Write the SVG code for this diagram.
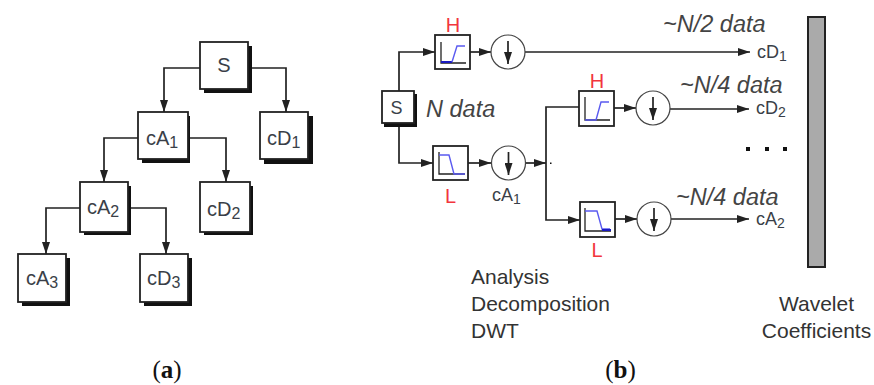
<svg xmlns="http://www.w3.org/2000/svg" width="874" height="385" viewBox="0 0 874 385">
<style>
text{font-family:"Liberation Sans",Arial,sans-serif;fill:#3a3f48}
.n{font-size:20px}
.sub{font-size:16px}
.i{font-size:23.500px;font-style:italic;fill:#444}
.r{font-size:20px;fill:#f2353d;text-anchor:middle}
.t{font-size:21px;fill:#333}
.s{font-size:18px}
.ss{font-size:14px}
.c{font-family:"Liberation Serif",serif;font-size:25px;fill:#111;text-anchor:middle}
.box{fill:#fff;stroke:#222;stroke-width:1.800}
.sh{fill:#111}
.ln{fill:none;stroke:#222;stroke-width:1.700}
.ax{fill:none;stroke:#222;stroke-width:1.300}
.bl{fill:none;stroke:#5a5af0;stroke-width:1.400}
.db{fill:none;stroke:#1a1ac0;stroke-width:2}
.circ{fill:#fff;stroke:#444;stroke-width:1.200}
</style>
<defs>
<marker id="a" viewBox="0 0 12 8" refX="12" refY="4" markerWidth="12" markerHeight="8" markerUnits="userSpaceOnUse" orient="auto"><path d="M0 0L12 4L0 8z" fill="#222"/></marker>
</defs>
<g id="connectors">
<path class="ln" marker-end="url(#a)" d="M200 68H164V112"/>
<path class="ln" marker-end="url(#a)" d="M252 68H286V112"/>
<path class="ln" marker-end="url(#a)" d="M138 138H104V182"/>
<path class="ln" marker-end="url(#a)" d="M190 138H226V182"/>
<path class="ln" marker-end="url(#a)" d="M80 208H46V254"/>
<path class="ln" marker-end="url(#a)" d="M130 208H166V254"/>
<path class="ln" marker-end="url(#a)" d="M399 91V52H435"/>
<path class="ln" marker-end="url(#a)" d="M399 127V163H433"/>
<path class="ln" marker-end="url(#a)" d="M470 52H491"/>
<path class="ln" marker-end="url(#a)" d="M468 163H491"/>
<path class="ln" d="M525 52H750" marker-end="url(#a)"/>
<path class="ln" marker-end="url(#a)" d="M526 163H546"/>
<path class="ln" marker-end="url(#a)" d="M579 107H546V220H580"/>
<path class="ln" marker-end="url(#a)" d="M614 108H636"/>
<path class="ln" marker-end="url(#a)" d="M615 219H637"/>
<path class="ln" marker-end="url(#a)" d="M670 109H749"/>
<path class="ln" marker-end="url(#a)" d="M671 219H749"/>
</g>
<g id="node-s"><rect class="sh" x="204" y="46" width="48" height="47"/><rect class="box" x="200" y="42" width="48" height="47"/><text class="n" x="224" y="72" text-anchor="middle">S</text></g>
<g id="node-ca1"><rect class="sh" x="142" y="116" width="48" height="47"/><rect class="box" x="138" y="112" width="50" height="47"/><text class="n" x="146" y="145">cA<tspan class="sub" dy="3">1</tspan></text></g>
<g id="node-cd1"><rect class="sh" x="264" y="116" width="49" height="48"/><rect class="box" x="260" y="112" width="48" height="47"/><text class="n" x="267" y="145">cD<tspan class="sub" dy="3">1</tspan></text></g>
<g id="node-ca2"><rect class="sh" x="84" y="186" width="47" height="49"/><rect class="box" x="80" y="182" width="48" height="50"/><text class="n" x="87" y="214">cA<tspan class="sub" dy="3">2</tspan></text></g>
<g id="node-cd2"><rect class="sh" x="204" y="186" width="49" height="49"/><rect class="box" x="200" y="182" width="50" height="50"/><text class="n" x="207" y="216">cD<tspan class="sub" dy="3">2</tspan></text></g>
<g id="node-ca3"><rect class="sh" x="22" y="258" width="48" height="48"/><rect class="box" x="18" y="254" width="48" height="48"/><text class="n" x="26" y="285">cA<tspan class="sub" dy="3">3</tspan></text></g>
<g id="node-cd3"><rect class="sh" x="144" y="258" width="48" height="48"/><rect class="box" x="140" y="254" width="48" height="48"/><text class="n" x="147" y="285">cD<tspan class="sub" dy="3">3</tspan></text></g>
<g id="node-s2"><rect class="sh" x="384" y="94" width="33" height="33"/><rect class="box" x="382" y="91" width="32" height="32"/><text x="396.500" y="114" text-anchor="middle" font-size="18">S</text></g>
<g id="filter-h1"><rect class="box" x="435" y="35" width="35" height="34"/><path class="ax" d="M441 42V63H466"/><path class="db" d="M441 62H452"/><path class="bl" d="M452 62L457 46H465"/><text class="r" x="453" y="32">H</text></g>
<g id="filter-l1"><rect class="box" x="433" y="146" width="35" height="34"/><path class="ax" d="M439 152V174H465"/><path class="bl" d="M439 155H449L454 174H465"/><text class="r" x="450.500" y="203">L</text></g>
<g id="filter-h2"><rect class="box" x="579" y="91" width="35" height="35"/><path class="ax" d="M585 97V120H610"/><path class="bl" d="M585 120H596L601 102H609"/><text class="r" x="597" y="88">H</text></g>
<g id="filter-l2"><rect class="box" x="580" y="202" width="35" height="35"/><path class="ax" d="M585 208V231H611"/><path class="bl" d="M585 211H597L602 229H610"/><path class="db" d="M602 230H611"/><text class="r" x="597" y="257">L</text></g>
<g id="down-1"><circle class="circ" cx="508" cy="52" r="17"/><path class="ln" marker-end="url(#a)" d="M508 41V64"/></g>
<g id="down-2"><circle class="circ" cx="508.500" cy="163" r="17"/><path class="ln" marker-end="url(#a)" d="M508.500 152V175"/></g>
<g id="down-3"><circle class="circ" cx="653" cy="108" r="17"/><path class="ln" marker-end="url(#a)" d="M653 97V120"/></g>
<g id="down-4"><circle class="circ" cx="654" cy="219" r="17"/><path class="ln" marker-end="url(#a)" d="M654 208V231"/></g>
<g id="wavelet-bar"><rect x="808" y="17" width="17" height="250" fill="#aaa" stroke="#222" stroke-width="2"/></g>
<g id="labels">
<text class="i" x="426" y="117">N data</text>
<text class="i" x="663" y="32">~N/2 data</text>
<text class="i" x="680" y="93">~N/4 data</text>
<text class="i" x="676" y="205">~N/4 data</text>
<text class="s" x="757" y="58">cD<tspan class="ss" dy="3">1</tspan></text>
<text class="s" x="756" y="114">cD<tspan class="ss" dy="3">2</tspan></text>
<text class="s" x="756" y="225">cA<tspan class="ss" dy="3">2</tspan></text>
<text class="s" x="492" y="201">cA<tspan class="ss" dy="3">1</tspan></text>
<path d="M746 147h4v4h-4zM765 147h4v4h-4zM783 147h4v4h-4z" fill="#111"/>
<rect x="550" y="162.500" width="1.500" height="1.500" fill="#111"/>
<text class="t" x="471" y="284">Analysis</text>
<text class="t" x="471" y="311">Decomposition</text>
<text class="t" x="471" y="338">DWT</text>
<text class="t" x="816.500" y="311" text-anchor="middle">Wavelet</text>
<text class="t" x="816.500" y="338" text-anchor="middle">Coefficients</text>
<text class="c" x="167" y="378">(<tspan font-weight="bold">a</tspan>)</text>
<text class="c" x="620.500" y="378">(<tspan font-weight="bold">b</tspan>)</text>
</g>
</svg>
